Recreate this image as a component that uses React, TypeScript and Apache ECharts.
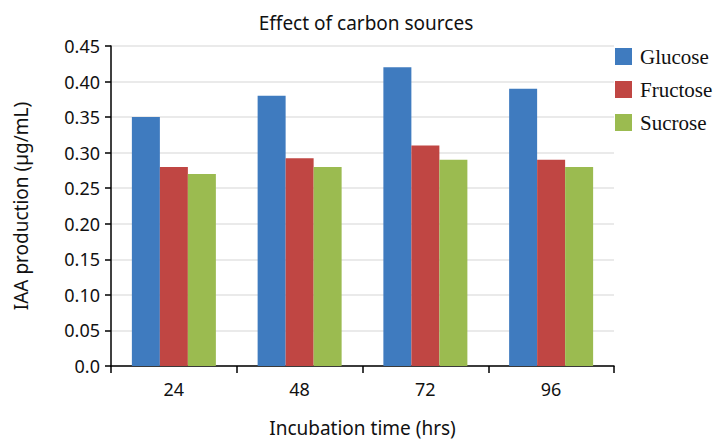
import React, { useEffect, useRef } from "react";
import * as echarts from "echarts";

const categories = ["24", "48", "72", "96"];
const glucose = [0.35, 0.38, 0.42, 0.39];
const fructose = [0.28, 0.292, 0.31, 0.29];
const sucrose = [0.27, 0.28, 0.29, 0.28];
const seriesNames = ["Glucose", "Fructose", "Sucrose"];
const colors = ["#3f7bbf", "#c04643", "#9bbb50"];

const sans = "Noto Sans";

export default function App() {
  const ref = useRef<HTMLDivElement>(null);
  useEffect(() => {
    if (!ref.current) return;
    const chart = echarts.init(ref.current, null, { renderer: "svg" });
    const data = [glucose, fructose, sucrose];
    chart.setOption({
      animation: false,
      backgroundColor: "#ffffff",
      title: {
        text: "Effect of carbon sources",
        left: 361,
        textAlign: "center",
        top: 8,
        textStyle: { fontFamily: sans, fontSize: 19, fontWeight: "normal", color: "#111" },
      },
      legend: {
        orient: "vertical",
        left: 615,
        top: 46,
        padding: 0,
        itemWidth: 17,
        itemHeight: 17,
        itemGap: 12,
        icon: "rect",
        textStyle: {
          fontFamily: "Liberation Serif",
          fontSize: 21,
          lineHeight: 17,
          color: "#111",
          padding: [0, 0, 0, 3],
        },
        data: seriesNames,
      },
      grid: { left: 111, right: 106, top: 46, bottom: 75, outerBoundsMode: "none" },
      xAxis: {
        type: "category",
        data: categories,
        name: "Incubation time (hrs)",
        nameLocation: "middle",
        nameGap: 52,
        nameTextStyle: { fontFamily: sans, fontSize: 19, lineHeight: 20, color: "#111" },
        axisLine: { lineStyle: { color: "#000", width: 1.5 } },
        axisTick: { show: true, length: 7, lineStyle: { color: "#000", width: 1.5 } },
        axisLabel: { fontFamily: sans, fontSize: 18, color: "#111", margin: 14 },
      },
      yAxis: {
        type: "value",
        min: 0,
        max: 0.45,
        interval: 0.05,
        name: "IAA production (µg/mL)",
        nameLocation: "middle",
        nameGap: 81,
        nameTextStyle: { fontFamily: sans, fontSize: 19, color: "#111" },
        axisLine: { show: true, lineStyle: { color: "#000", width: 1.5 } },
        axisTick: { show: true, length: 6, lineStyle: { color: "#000", width: 1.5 } },
        axisLabel: {
          fontFamily: sans,
          fontSize: 18,
          color: "#111",
          margin: 11,
          formatter: (v: number) => (v === 0 ? "0.0" : v.toFixed(2)),
        },
        splitLine: { show: true, lineStyle: { color: "#e3e3e3", width: 1.5 } },
      },
      series: seriesNames.map((name, i) => ({
        name,
        type: "bar",
        data: data[i],
        barWidth: 28,
        barGap: "0%",
        itemStyle: { color: colors[i] },
      })),
    });
    return () => chart.dispose();
  }, []);
  return <div ref={ref} style={{ width: 720, height: 441, position: "absolute", left: 0, top: 0 }} />;
}
